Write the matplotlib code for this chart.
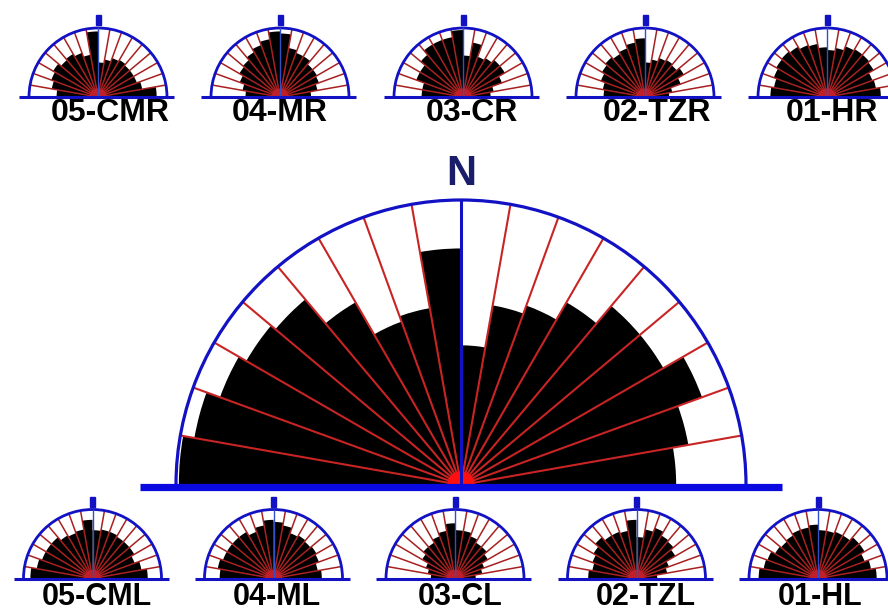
import numpy as np
import matplotlib.pyplot as plt
from matplotlib.patches import Wedge, Arc, Rectangle

plt.rcParams['font.family'] = ['Liberation Sans', 'DejaVu Sans']

# 10-degree sectors, counter-clockwise from east (E -> N -> W)
sector_start = np.arange(0, 180, 10)

# relative frequency per sector, E -> W
main_values = [0.755, 0.81, 0.90, 0.82, 0.82, 0.74, 0.67, 0.64, 0.49,
               0.83, 0.63, 0.61, 0.74, 0.85, 0.87, 0.90, 0.95, 0.99]

top_labels = ['05-CMR', '04-MR', '03-CR', '02-TZR', '01-HR']
cmr05 = [0.85, 0.65, 0.6, 0.6, 0.6, 0.62, 0.6, 0.55, 0.5, 0.95, 0.62, 0.68, 0.72, 0.7, 0.75, 0.72, 0.68, 0.6]
mr04 = [0.45, 0.55, 0.6, 0.62, 0.62, 0.68, 0.68, 0.72, 0.92, 0.95, 0.85, 0.8, 0.75, 0.7, 0.68, 0.62, 0.55, 0.5]
cr03 = [0.4, 0.45, 0.6, 0.7, 0.7, 0.65, 0.62, 0.8, 0.6, 0.97, 0.88, 0.88, 0.88, 0.8, 0.72, 0.72, 0.6, 0.6]
tzr02 = [0.35, 0.4, 0.55, 0.65, 0.6, 0.62, 0.6, 0.55, 0.5, 0.85, 0.8, 0.75, 0.72, 0.75, 0.72, 0.68, 0.62, 0.6]
hr01 = [0.78, 0.72, 0.7, 0.78, 0.8, 0.8, 0.78, 0.72, 0.68, 0.72, 0.78, 0.8, 0.84, 0.86, 0.85, 0.82, 0.78, 0.82]

bottom_labels = ['05-CML', '04-ML', '03-CL', '02-TZL', '01-HL']
cml05 = [0.8, 0.72, 0.65, 0.7, 0.7, 0.7, 0.72, 0.72, 0.7, 0.85, 0.72, 0.7, 0.72, 0.78, 0.78, 0.78, 0.82, 0.9]
ml04 = [0.7, 0.65, 0.7, 0.72, 0.7, 0.72, 0.7, 0.78, 0.82, 0.85, 0.78, 0.72, 0.78, 0.78, 0.78, 0.78, 0.82, 0.78]
cl03 = [0.3, 0.4, 0.45, 0.55, 0.6, 0.6, 0.65, 0.7, 0.7, 0.8, 0.7, 0.65, 0.6, 0.6, 0.55, 0.45, 0.4, 0.35]
tzl02 = [0.3, 0.45, 0.5, 0.65, 0.7, 0.72, 0.78, 0.72, 0.6, 0.85, 0.7, 0.72, 0.72, 0.78, 0.72, 0.68, 0.65, 0.7]
hl01 = [0.85, 0.78, 0.72, 0.78, 0.78, 0.72, 0.72, 0.7, 0.7, 0.78, 0.75, 0.75, 0.72, 0.7, 0.72, 0.78, 0.8, 0.86]

top_values = [cmr05, mr04, cr03, tzr02, hr01]
bottom_values = [cml05, ml04, cl03, tzl02, hl01]

BLUE = '#1212c4'
RED = '#c82424'
NAVY = '#1a1d6a'


def rose(ax, cx, cy, radius, values, big=False):
    for a0, v in zip(sector_start, values):
        ax.add_patch(Wedge((cx, cy), v * radius, a0, a0 + 10,
                           facecolor='black', edgecolor='none', zorder=2))
    # sector dividers
    for a in sector_start[1:]:
        if a == 90:
            continue
        t = np.deg2rad(a)
        ax.plot([cx, cx + radius * np.cos(t)], [cy, cy + radius * np.sin(t)],
                color=RED if big else '#a82020', lw=1.5 if big else 1.1,
                zorder=3, solid_capstyle='butt')
    if big:
        ax.add_patch(Wedge((cx, cy), 13, 0, 180, color='#ff1010', zorder=3))
        ax.add_patch(Arc((cx, cy), 2 * radius, 2 * radius, theta1=0, theta2=180,
                         color=BLUE, lw=2.3, zorder=4))
        ax.plot([cx - 321, cx + 321], [cy - 2, cy - 2], color='#0a0ae0',
                lw=5.2, zorder=5, solid_capstyle='butt')
        ax.plot([cx, cx], [cy, cy + radius], color=BLUE, lw=2.2, zorder=4)
    else:
        ax.add_patch(Wedge((cx, cy), 8, 0, 180, color='#d02030', alpha=0.6, zorder=3))
        ax.add_patch(Arc((cx, cy), 2 * radius, 2 * radius, theta1=0, theta2=180,
                         color=BLUE, lw=2.0, zorder=4))
        ax.plot([cx - 79, cx + 76], [cy, cy], color=BLUE, lw=2.2, zorder=5,
                solid_capstyle='butt')
        ax.plot([cx, cx], [cy, cy + radius], color='#3050c8', lw=1.0, zorder=4)
        ax.add_patch(Rectangle((cx - 2.5, cy + radius + 3), 5, 10,
                               color=BLUE, zorder=4))


fig = plt.figure(figsize=(8.88, 6.13), dpi=100)
ax = fig.add_axes([0, 0, 1, 1])
ax.set_xlim(0, 888)
ax.set_ylim(0, 613)
ax.axis('off')

# central diagram
rose(ax, 461, 128, 285, main_values, big=True)
ax.text(461, 428, 'N', ha='center', va='baseline', fontsize=30,
        fontweight='bold', color=NAVY)

top_x = [98, 280, 463, 645, 827]
top_text_x = [110, 280, 472, 657, 832]
for cx, tx, vals, lab in zip(top_x, top_text_x, top_values, top_labels):
    rose(ax, cx, 516, 69, vals)
    ax.text(tx, 492, lab, ha='center', va='baseline', fontsize=23,
            fontweight='bold', color='black')

bottom_x = [92.5, 273.5, 455, 636.5, 818]
bottom_text_x = [97, 277, 460, 646, 820]
for cx, tx, vals, lab in zip(bottom_x, bottom_text_x, bottom_values, bottom_labels):
    rose(ax, cx, 34.5, 69, vals)
    ax.text(tx, 1, lab, ha='center', va='bottom', fontsize=22,
            fontweight='bold', color='black')

fig.savefig('out.png', dpi=100)
